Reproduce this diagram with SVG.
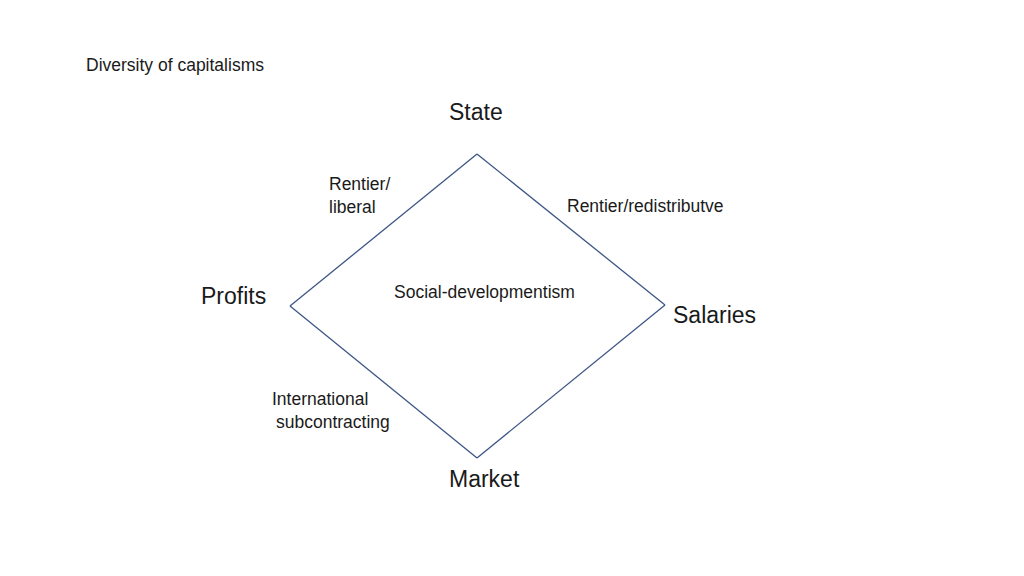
<svg xmlns="http://www.w3.org/2000/svg" width="1024" height="576" viewBox="0 0 1024 576">
<style>
.s{font-family:"Liberation Sans","Open Sans",sans-serif;font-size:17.5px;fill:#1a1a1a}
.b{font-family:"Liberation Sans","Open Sans",sans-serif;font-size:23px;fill:#1a1a1a}
.e{fill:none;stroke:#3d5585;stroke-width:1.3}
</style>
<rect width="1024" height="576" fill="#ffffff"/>
<text id="title" class="s" x="86" y="71">Diversity of capitalisms</text>
<g id="connectors">
<line class="e" x1="477" y1="154" x2="665" y2="305"/>
<line class="e" x1="665" y1="305" x2="477" y2="458"/>
<line class="e" x1="477" y1="458" x2="290" y2="306"/>
<line class="e" x1="290" y1="306" x2="477" y2="154"/>
</g>
<g id="state"><text class="b" x="449" y="120">State</text></g>
<g id="profits"><text class="b" x="201" y="304">Profits</text></g>
<g id="salaries"><text class="b" x="673" y="323">Salaries</text></g>
<g id="market"><text class="b" x="449" y="487">Market</text></g>
<g id="rentier-liberal"><text class="s" x="329" y="190">Rentier/</text><text class="s" x="329" y="213">liberal</text></g>
<g id="rentier-redistributive"><text class="s" x="567" y="212">Rentier/redistributve</text></g>
<g id="social-developmentism"><text class="s" x="394" y="298">Social-developmentism</text></g>
<g id="international-subcontracting"><text class="s" x="272" y="405">International</text><text class="s" x="276" y="428">subcontracting</text></g>
</svg>
